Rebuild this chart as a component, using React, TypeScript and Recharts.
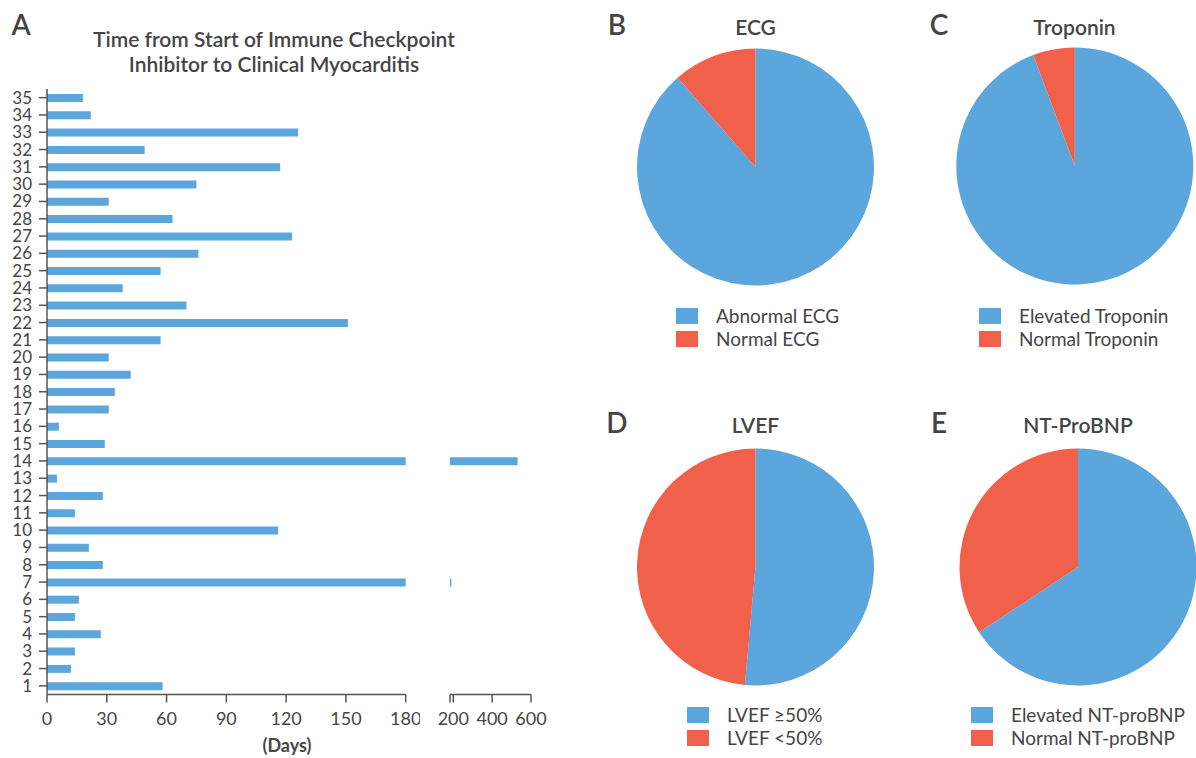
import React from "react";
import { BarChart, Bar, XAxis, YAxis, PieChart, Pie, Cell, Legend } from "recharts";

const BLUE = "#5ba6dc";
const RED = "#f0604a";
const INK = "#454545";
const AXIS = "#555555";
const FONT = "Lato, 'Open Sans', sans-serif";

// panel A: one bar per patient
const patients = [
  "1", "2", "3", "4", "5", "6", "7", "8", "9", "10", "11", "12",
  "13", "14", "15", "16", "17", "18", "19", "20", "21", "22", "23", "24",
  "25", "26", "27", "28", "29", "30", "31", "32", "33", "34", "35",
];
const daysToMyocarditis = [
  58, 12, 14, 27, 14, 16, 190, 28, 21, 116, 14, 28,
  5, 531, 29, 6, 31, 34, 42, 31, 57, 151, 70, 38,
  57, 76, 123, 63, 31, 75, 117, 49, 126, 22, 18,
];
const leftTicks = [0, 30, 60, 90, 120, 150, 180];
const breakStart = 183;
const rightTicks = [breakStart, 200, 400, 600];

// panels B-E
const ecgLabels = ["Abnormal ECG", "Normal ECG"];
const ecgCounts = [31, 4];
const troponinLabels = ["Elevated Troponin", "Normal Troponin"];
const troponinCounts = [33, 2];
const lvefLabels = ["LVEF \u226550%", "LVEF <50%"];
const lvefCounts = [18, 17];
const bnpLabels = ["Elevated NT-proBNP", "Normal NT-proBNP"];
const bnpCounts = [23, 12];

const SLICE_COLORS = [BLUE, RED];

const barData = patients.map((p, i) => ({ patient: p, days: daysToMyocarditis[i] }));

const toSlices = (labels: string[], counts: number[]) =>
  labels.map((name, i) => ({ name, value: counts[i] }));

const yTickStyle = { fill: INK, fontSize: 17 };
const xTickStyle = { fill: INK, fontSize: 18 };

function LegendBox(props: any) {
  const payload = props.payload || [];
  return (
    <div>
      {payload.map((entry: any, i: number) => (
        <div
          key={`leg-${i}`}
          style={{ display: "flex", alignItems: "center", height: 22.5 }}
        >
          <span
            style={{
              display: "inline-block",
              width: 22,
              height: 16,
              marginRight: 18,
              background: entry.color || SLICE_COLORS[i],
            }}
          />
          <span style={{ color: INK, fontSize: 19, lineHeight: "22px" }}>
            {entry.value}
          </span>
        </div>
      ))}
    </div>
  );
}

function PiePanel(props: {
  data: { name: string; value: number }[];
  left: number;
  top: number;
  width: number;
  cx: number;
  cy: number;
  legendLeft: number;
  legendTop: number;
}) {
  const { data, left, top, width, cx, cy, legendLeft, legendTop } = props;
  const names = data.map((d) => d.name);
  return (
    <div style={{ position: "absolute", left, top }}>
      <PieChart width={width} height={370} margin={{ top: 0, right: 0, bottom: 0, left: 0 }}>
        <Pie
          data={data}
          dataKey="value"
          nameKey="name"
          cx={cx}
          cy={cy}
          outerRadius={118.5}
          startAngle={90}
          endAngle={-270}
          stroke="none"
          isAnimationActive={false}
        >
          {data.map((_, i) => (
            <Cell key={`cell-${i}`} fill={SLICE_COLORS[i % SLICE_COLORS.length]} />
          ))}
        </Pie>
        <Legend
          content={<LegendBox />}
          itemSorter={(item: any) => names.indexOf(item.value)}
          wrapperStyle={{ left: legendLeft, top: legendTop, bottom: "auto", width: "auto" }}
        />
      </PieChart>
    </div>
  );
}

export default function App() {
  return (
    <div
      style={{
        position: "absolute",
        left: 0,
        top: 0,
        width: 1196,
        height: 758,
        overflow: "hidden",
        background: "#fff",
        fontFamily: FONT,
      }}
    >
      {/* A: days, left part of the broken axis */}
      <div style={{ position: "absolute", left: 0, top: 0 }}>
        <BarChart
          width={420}
          height={758}
          data={barData}
          layout="vertical"
          margin={{ top: 89, right: 14.3, bottom: 23.5, left: 0 }}
        >
          <XAxis
            type="number"
            domain={[0, 180]}
            ticks={leftTicks}
            allowDataOverflow
            interval={0}
            height={40}
            tickSize={8}
            tickMargin={10}
            stroke={AXIS}
            strokeWidth={1.5}
            tick={xTickStyle}
          />
          <YAxis
            type="category"
            dataKey="patient"
            reversed
            width={47}
            interval={0}
            tickSize={8}
            tickMargin={7}
            stroke={AXIS}
            strokeWidth={1.5}
            tick={yTickStyle}
          />
          <Bar dataKey="days" fill={BLUE} barSize={8} isAnimationActive={false} />
        </BarChart>
      </div>

      {/* A: right part of the broken axis */}
      <div style={{ position: "absolute", left: 420, top: 0 }}>
        <BarChart
          width={131}
          height={758}
          data={barData}
          layout="vertical"
          margin={{ top: 89, right: 20, bottom: 23.5, left: 30 }}
        >
          <XAxis
            type="number"
            domain={[breakStart, 600]}
            ticks={rightTicks}
            allowDataOverflow
            interval={0}
            height={40}
            tickSize={8}
            tickMargin={10}
            stroke={AXIS}
            strokeWidth={1.5}
            tick={xTickStyle}
            tickFormatter={(v: number) => (v === breakStart ? "" : String(v))}
          />
          <YAxis type="category" dataKey="patient" reversed hide />
          <Bar dataKey="days" fill={BLUE} barSize={8} isAnimationActive={false} />
        </BarChart>
      </div>

      <PiePanel
        data={toSlices(ecgLabels, ecgCounts)}
        left={600}
        top={0}
        width={300}
        cx={155.5}
        cy={167}
        legendLeft={76}
        legendTop={305}
      />
      <PiePanel
        data={toSlices(troponinLabels, troponinCounts)}
        left={915}
        top={0}
        width={281}
        cx={159.8}
        cy={166}
        legendLeft={64}
        legendTop={305}
      />
      <PiePanel
        data={toSlices(lvefLabels, lvefCounts)}
        left={600}
        top={390}
        width={300}
        cx={155.5}
        cy={177}
        legendLeft={87}
        legendTop={314}
      />
      <PiePanel
        data={toSlices(bnpLabels, bnpCounts)}
        left={915}
        top={390}
        width={281}
        cx={163}
        cy={177}
        legendLeft={56}
        legendTop={314}
      />

      <svg
        width={1196}
        height={758}
        style={{ position: "absolute", left: 0, top: 0, pointerEvents: "none" }}
      >
        <g fill={INK} fontFamily={FONT}>
          <text x={21} y={35} fontSize={28} fontWeight={600} textAnchor="middle">A</text>
          <text x={617} y={35} fontSize={28} fontWeight={600} textAnchor="middle">B</text>
          <text x={939} y={35} fontSize={28} fontWeight={600} textAnchor="middle">C</text>
          <text x={617} y={433} fontSize={28} fontWeight={600} textAnchor="middle">D</text>
          <text x={939} y={433} fontSize={28} fontWeight={600} textAnchor="middle">E</text>

          <text x={274} y={46.7} fontSize={21} fontWeight={600} textAnchor="middle">
            Time from Start of Immune Checkpoint
          </text>
          <text x={274} y={71.7} fontSize={21} fontWeight={600} textAnchor="middle">
            Inhibitor to Clinical Myocarditis
          </text>
          <text x={287} y={752} fontSize={18} fontWeight={700} textAnchor="middle">
            (Days)
          </text>

          <text x={755.5} y={35} fontSize={21} fontWeight={600} textAnchor="middle">ECG</text>
          <text x={1074.5} y={35} fontSize={21} fontWeight={600} textAnchor="middle">Troponin</text>
          <text x={755.5} y={433} fontSize={21} fontWeight={600} textAnchor="middle">LVEF</text>
          <text x={1078} y={433} fontSize={21} fontWeight={600} textAnchor="middle">NT-ProBNP</text>
        </g>
      </svg>
    </div>
  );
}
